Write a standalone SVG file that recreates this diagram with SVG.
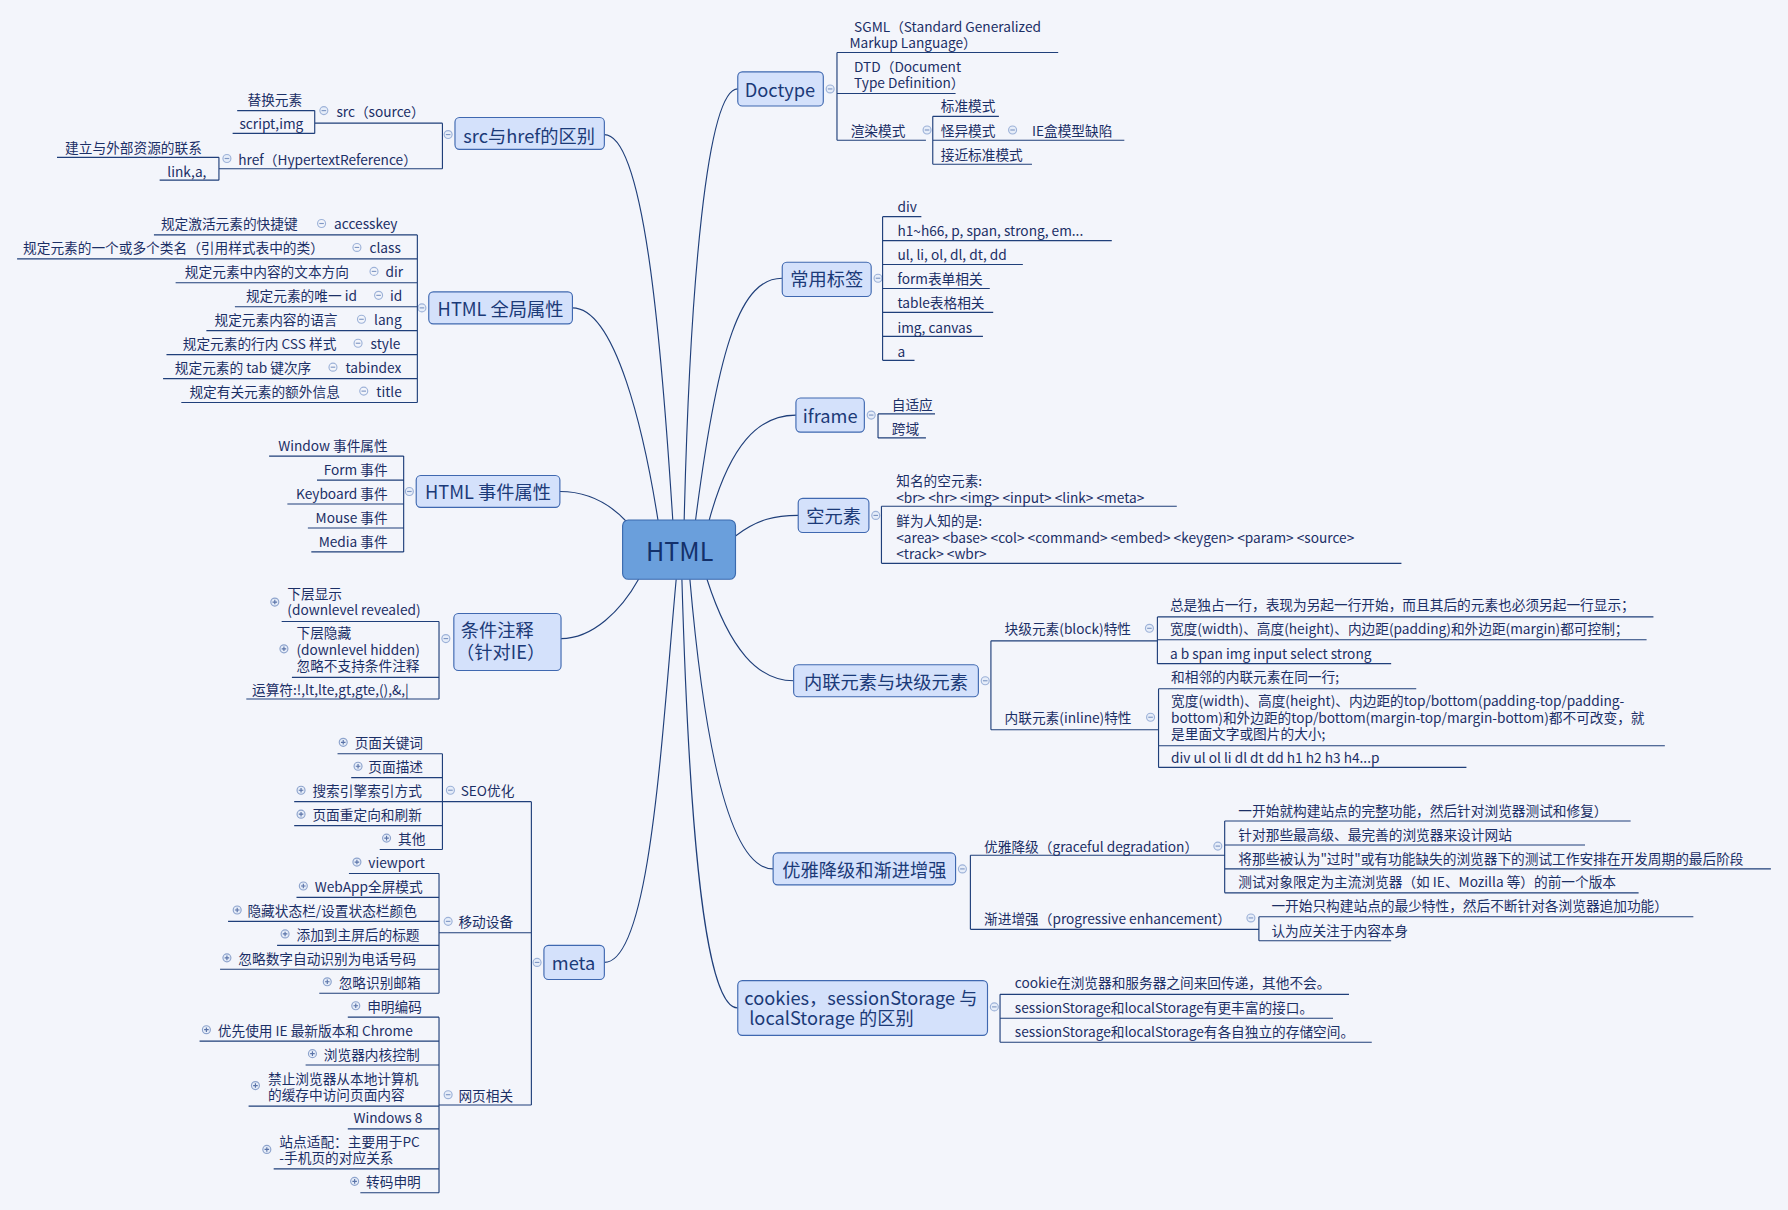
<svg xmlns="http://www.w3.org/2000/svg" width="1788" height="1210" viewBox="0 0 1788 1210">
<style>
.t{font-family:"Noto Sans CJK SC","DejaVu Sans",sans-serif;font-size:12px;fill:#1b2f66;dominant-baseline:central}
.e{text-anchor:end}
.n{font-family:"Noto Sans CJK SC","DejaVu Sans",sans-serif;font-size:16px;fill:#1b3a78;dominant-baseline:central;text-anchor:middle}
.b{fill:#d4e1fb;stroke:#3f68b0;stroke-width:1}
.l{fill:none;stroke:#1f3f7a;stroke-width:1}
.c{fill:#e6edf9;stroke:#9db2d8;stroke-width:1}
.s{stroke:#7f97c4;stroke-width:1}
</style>
<defs>
<g id="p"><circle cx="0" cy="0" r="3.5" fill="#e6edf9" stroke="#8da3cc"/><path d="M-2,0 H2 M0,-2 V2" stroke="#5a73a8" stroke-width="1"/></g>
</defs>
<rect width="1788" height="1210" fill="#f3f5fb"/>
<g transform="scale(1.1403)">
<g id="connectors" class="l">
<path d="M600,456 C605,250 620,78 647,78"/>
<path d="M610,456 C630,300 650,244 686,244"/>
<path d="M622,456 C640,390 665,364 698,364"/>
<path d="M645,470 C665,455 680,452 700,452"/>
<path d="M620,508 C640,570 665,597 696,597"/>
<path d="M605,508 C620,680 645,762 678,762"/>
<path d="M598,508 C605,750 620,884 647,884"/>
<path d="M530,118 C565,118 580,300 590,456"/>
<path d="M502,270 C540,270 565,380 577,456"/>
<path d="M491,431 C520,431 538,445 550,458"/>
<path d="M492,560 C520,560 545,535 560,508"/>
<path d="M530,844 C570,844 580,650 593,508"/>
</g>

<g id="html"><rect x="546" y="456" width="99" height="52" rx="5" fill="#6a9fdc" stroke="#3a6aae"/><text x="596" y="482" class="n" style="font-size:22px;fill:#13306a">HTML</text></g>

<g id="doctype">
<rect class="b" x="647" y="63" width="75" height="30" rx="4"/><text class="n" x="684" y="78">Doctype</text>
<circle class="c" cx="728" cy="78" r="3.5"/><line class="s" x1="726" y1="78" x2="730" y2="78"/>
<path class="l" d="M734,46 V123 M734,46 H928 M734,82 H838 M734,123 H812 M818,102 V144 M818,102 H876 M818,123 H986 M818,144 H905"/>
<text class="t" x="749" y="23">SGML（Standard Generalized</text><text class="t" x="745" y="37">Markup Language）</text>
<text class="t" x="749" y="58">DTD（Document</text><text class="t" x="749" y="72">Type Definition）</text>
<text class="t" x="746" y="114">渲染模式</text>
<circle class="c" cx="813" cy="114" r="3.5"/><line class="s" x1="811" y1="114" x2="815" y2="114"/>
<text class="t" x="825" y="92">标准模式</text><text class="t" x="825" y="114">怪异模式</text>
<circle class="c" cx="888" cy="114" r="3.5"/><line class="s" x1="886" y1="114" x2="890" y2="114"/>
<text class="t" x="905" y="114">IE盒模型缺陷</text><text class="t" x="825" y="135">接近标准模式</text>
</g>

<g id="tags">
<rect class="b" x="686" y="230" width="78" height="30" rx="4"/><text class="n" x="725" y="244">常用标签</text>
<circle class="c" cx="770" cy="244" r="3.5"/><line class="s" x1="768" y1="244" x2="772" y2="244"/>
<path class="l" d="M774,190 V316 M774,190 H808 M774,211 H975 M774,232 H897 M774,253 H868 M774,274 H871 M774,295 H862 M774,316 H802"/>
<text class="t" x="787" y="181">div</text><text class="t" x="787" y="202">h1~h66, p, span, strong, em...</text>
<text class="t" x="787" y="223">ul, li, ol, dl, dt, dd</text><text class="t" x="787" y="244">form表单相关</text>
<text class="t" x="787" y="265">table表格相关</text><text class="t" x="787" y="287">img, canvas</text><text class="t" x="787" y="308">a</text>
</g>

<g id="iframe">
<rect class="b" x="698" y="349" width="60" height="30" rx="4"/><text class="n" x="728" y="364">iframe</text>
<circle class="c" cx="764" cy="364" r="3.5"/><line class="s" x1="762" y1="364" x2="766" y2="364"/>
<path class="l" d="M770,363 V384 M770,363 H820 M770,384 H812"/>
<text class="t" x="782" y="354">自适应</text><text class="t" x="782" y="375">跨域</text>
</g>

<g id="empty">
<rect class="b" x="700" y="437" width="62" height="30" rx="4"/><text class="n" x="731" y="452">空元素</text>
<circle class="c" cx="768" cy="452" r="3.5"/><line class="s" x1="766" y1="452" x2="770" y2="452"/>
<path class="l" d="M773,444 V494 M773,444 H1032 M773,494 H1229"/>
<text class="t" x="786" y="421">知名的空元素:</text><text class="t" x="786" y="436">&lt;br&gt; &lt;hr&gt; &lt;img&gt; &lt;input&gt; &lt;link&gt; &lt;meta&gt;</text>
<text class="t" x="786" y="456">鲜为人知的是:</text><text class="t" x="786" y="471">&lt;area&gt; &lt;base&gt; &lt;col&gt; &lt;command&gt; &lt;embed&gt; &lt;keygen&gt; &lt;param&gt; &lt;source&gt;</text>
<text class="t" x="786" y="485">&lt;track&gt; &lt;wbr&gt;</text>
</g>

<g id="inline">
<rect class="b" x="696" y="583" width="162" height="28" rx="4"/><text class="n" x="777" y="597">内联元素与块级元素</text>
<circle class="c" cx="864" cy="597" r="3.5"/><line class="s" x1="862" y1="597" x2="866" y2="597"/>
<path class="l" d="M869,562 V640 M869,562 H1015 M869,640 H1016 M1015,541 V582 M1015,541 H1450 M1015,561 H1444 M1015,582 H1220 M1016,604 V673 M1016,604 H1242 M1016,654 H1460 M1016,673 H1286"/>
<text class="t" x="881" y="551">块级元素(block)特性</text>
<circle class="c" cx="1008" cy="551" r="3.5"/><line class="s" x1="1006" y1="551" x2="1010" y2="551"/>
<text class="t" x="1026" y="530">总是独占一行，表现为另起一行开始，而且其后的元素也必须另起一行显示；</text>
<text class="t" x="1026" y="551">宽度(width)、高度(height)、内边距(padding)和外边距(margin)都可控制；</text>
<text class="t" x="1026" y="573">a b span img input select strong</text>
<text class="t" x="881" y="629">内联元素(inline)特性</text>
<circle class="c" cx="1009" cy="629" r="3.5"/><line class="s" x1="1007" y1="629" x2="1011" y2="629"/>
<text class="t" x="1027" y="593">和相邻的内联元素在同一行;</text>
<text class="t" x="1027" y="614">宽度(width)、高度(height)、内边距的top/bottom(padding-top/padding-</text>
<text class="t" x="1027" y="629">bottom)和外边距的top/bottom(margin-top/margin-bottom)都不可改变，就</text>
<text class="t" x="1027" y="643">是里面文字或图片的大小;</text>
<text class="t" x="1027" y="664">div ul ol li dl dt dd h1 h2 h3 h4...p</text>
</g>

<g id="graceful">
<rect class="b" x="678" y="748" width="160" height="28" rx="4"/><text class="n" x="758" y="762">优雅降级和渐进增强</text>
<circle class="c" cx="844" cy="762" r="3.5"/><line class="s" x1="842" y1="762" x2="846" y2="762"/>
<path class="l" d="M851,750 V815 M851,750 H1074 M851,815 H1104 M1074,720 V783 M1074,720 H1430 M1074,741 H1390 M1074,762 H1553 M1074,783 H1437 M1104,804 V825 M1104,804 H1485 M1104,825 H1220"/>
<text class="t" x="863" y="742">优雅降级（graceful degradation）</text>
<circle class="c" cx="1068" cy="742" r="3.5"/><line class="s" x1="1066" y1="742" x2="1070" y2="742"/>
<text class="t" x="1086" y="710">一开始就构建站点的完整功能，然后针对浏览器测试和修复）</text>
<text class="t" x="1086" y="731">针对那些最高级、最完善的浏览器来设计网站</text>
<text class="t" x="1086" y="752">将那些被认为"过时"或有功能缺失的浏览器下的测试工作安排在开发周期的最后阶段</text>
<text class="t" x="1086" y="773">测试对象限定为主流浏览器（如 IE、Mozilla 等）的前一个版本</text>
<text class="t" x="863" y="805">渐进增强（progressive enhancement）</text>
<circle class="c" cx="1097" cy="805" r="3.5"/><line class="s" x1="1095" y1="805" x2="1099" y2="805"/>
<text class="t" x="1115" y="794">一开始只构建站点的最少特性，然后不断针对各浏览器追加功能）</text>
<text class="t" x="1115" y="816">认为应关注于内容本身</text>
</g>

<g id="cookies">
<rect class="b" x="647" y="860" width="219" height="48" rx="4"/>
<text class="n" x="755" y="874">cookies，sessionStorage 与</text>
<text class="n" x="657" y="892" style="text-anchor:start">localStorage 的区别</text>
<circle class="c" cx="872" cy="883" r="3.5"/><line class="s" x1="870" y1="883" x2="874" y2="883"/>
<path class="l" d="M877,872 V914 M877,872 H1183 M877,893 H1169 M877,914 H1203"/>
<text class="t" x="890" y="861">cookie在浏览器和服务器之间来回传递，其他不会。</text>
<text class="t" x="890" y="883">sessionStorage和localStorage有更丰富的接口。</text>
<text class="t" x="890" y="904">sessionStorage和localStorage有各自独立的存储空间。</text>
</g>

<g id="srchref">
<rect class="b" x="399" y="103" width="131" height="28" rx="4"/><text class="n" x="464" y="118">src与href的区别</text>
<circle class="c" cx="393" cy="118" r="3.5"/><line class="s" x1="391" y1="118" x2="395" y2="118"/>
<path class="l" d="M388,108 V148 M276,108 H388 M192,148 H388 M276,97 V117 M208,97 H276 M204,117 H276 M192,138 V158 M50,138 H192 M140,158 H192"/>
<circle class="c" cx="284" cy="97" r="3.5"/><line class="s" x1="282" y1="97" x2="286" y2="97"/>
<text class="t" x="295" y="97">src（source）</text>
<text class="t e" x="265" y="87">替换元素</text><text class="t e" x="266" y="108">script,img</text>
<circle class="c" cx="199" cy="139" r="3.5"/><line class="s" x1="197" y1="139" x2="201" y2="139"/>
<text class="t" x="209" y="139">href（HypertextReference）</text>
<text class="t e" x="177" y="129">建立与外部资源的联系</text><text class="t e" x="181" y="150">link,a,</text>
</g>

<g id="global">
<rect class="b" x="376" y="256" width="126" height="28" rx="4"/><text class="n" x="439" y="270">HTML 全局属性</text>
<circle class="c" cx="370" cy="270" r="3.5"/><line class="s" x1="368" y1="270" x2="372" y2="270"/>
<path class="l" d="M366,206 V353 M135,206 H366 M15,227 H366 M154,248 H366 M206,269 H366 M181,290 H366 M146,311 H366 M143,332 H366 M159,353 H366"/>
<g class="s">
<line x1="280" y1="196" x2="284" y2="196"/><line x1="311" y1="217" x2="315" y2="217"/><line x1="326" y1="238" x2="330" y2="238"/><line x1="330" y1="259" x2="334" y2="259"/>
<line x1="315" y1="280" x2="319" y2="280"/><line x1="312" y1="301" x2="316" y2="301"/><line x1="290" y1="322" x2="294" y2="322"/><line x1="317" y1="343" x2="321" y2="343"/>
</g>
<text class="t e" x="261" y="196">规定激活元素的快捷键</text><circle class="c" cx="282" cy="196" r="3.5" fill-opacity="0"/><text class="t" x="293" y="196">accesskey</text>
<text class="t e" x="284" y="217">规定元素的一个或多个类名（引用样式表中的类）</text><circle class="c" cx="313" cy="217" r="3.5" fill-opacity="0"/><text class="t" x="324" y="217">class</text>
<text class="t e" x="306" y="238">规定元素中内容的文本方向</text><circle class="c" cx="328" cy="238" r="3.5" fill-opacity="0"/><text class="t" x="338" y="238">dir</text>
<text class="t e" x="313" y="259">规定元素的唯一 id</text><circle class="c" cx="332" cy="259" r="3.5" fill-opacity="0"/><text class="t" x="342" y="259">id</text>
<text class="t e" x="296" y="280">规定元素内容的语言</text><circle class="c" cx="317" cy="280" r="3.5" fill-opacity="0"/><text class="t" x="328" y="280">lang</text>
<text class="t e" x="295" y="301">规定元素的行内 CSS 样式</text><circle class="c" cx="314" cy="301" r="3.5" fill-opacity="0"/><text class="t" x="325" y="301">style</text>
<text class="t e" x="273" y="322">规定元素的 tab 键次序</text><circle class="c" cx="292" cy="322" r="3.5" fill-opacity="0"/><text class="t" x="303" y="322">tabindex</text>
<text class="t e" x="298" y="343">规定有关元素的额外信息</text><circle class="c" cx="319" cy="343" r="3.5" fill-opacity="0"/><text class="t" x="330" y="343">title</text>
</g>

<g id="events">
<rect class="b" x="365" y="417" width="126" height="28" rx="4"/><text class="n" x="428" y="431">HTML 事件属性</text>
<circle class="c" cx="359" cy="431" r="3.5"/><line class="s" x1="357" y1="431" x2="361" y2="431"/>
<path class="l" d="M354,400 V484 M236,400 H354 M278,421 H354 M252,442 H354 M270,463 H354 M273,484 H354"/>
<text class="t e" x="340" y="390">Window 事件属性</text><text class="t e" x="340" y="411">Form 事件</text>
<text class="t e" x="340" y="432">Keyboard 事件</text><text class="t e" x="340" y="453">Mouse 事件</text><text class="t e" x="340" y="474">Media 事件</text>
</g>

<g id="cond">
<rect class="b" x="398" y="538" width="94" height="50" rx="4"/>
<text class="n" x="404" y="552" style="text-anchor:start">条件注释</text><text class="n" x="400" y="571" style="text-anchor:start">（针对IE）</text>
<circle class="c" cx="391" cy="560" r="3.5"/><line class="s" x1="389" y1="560" x2="393" y2="560"/>
<path class="l" d="M385,545 V613 M247,545 H385 M256,594 H385 M216,613 H385"/>
<use href="#p" x="241" y="528"/>
<text class="t" x="252" y="520">下层显示</text><text class="t" x="252" y="534">(downlevel revealed)</text>
<use href="#p" x="249" y="569"/>
<text class="t" x="260" y="554">下层隐藏</text><text class="t" x="260" y="569">(downlevel hidden)</text><text class="t" x="260" y="583">忽略不支持条件注释</text>
<text class="t" x="221" y="604">运算符:!,lt,lte,gt,gte,(),&amp;,|</text>
</g>

<g id="meta">
<rect class="b" x="477" y="829" width="53" height="30" rx="4"/><text class="n" x="503" y="844">meta</text>
<circle class="c" cx="471" cy="844" r="3.5"/><line class="s" x1="469" y1="844" x2="473" y2="844"/>
<path class="l" d="M466,703 V969 M388,703 H466 M385,818 H466 M385,969 H466
M388,661 V745 M296,661 H388 M308,682 H388 M258,703 H388 M258,724 H388 M333,745 H388
M385,766 V871 M306,766 H385 M260,787 H385 M200,808 H385 M243,829 H385 M193,850 H385 M280,871 H385
M385,892 V1046 M305,892 H385 M175,913 H385 M268,934 H385 M218,970 H385 M305,990 H385 M240,1025 H385 M316,1046 H385"/>
<circle class="c" cx="395" cy="693" r="3.5"/><line class="s" x1="393" y1="693" x2="397" y2="693"/><text class="t" x="404" y="693">SEO优化</text>
<circle class="c" cx="393" cy="808" r="3.5"/><line class="s" x1="391" y1="808" x2="395" y2="808"/><text class="t" x="402" y="808">移动设备</text>
<circle class="c" cx="393" cy="960" r="3.5"/><line class="s" x1="391" y1="960" x2="395" y2="960"/><text class="t" x="402" y="960">网页相关</text>
<use href="#p" x="301" y="651"/><use href="#p" x="314" y="672"/><use href="#p" x="264" y="693"/><use href="#p" x="264" y="714"/><use href="#p" x="339" y="735"/>
<use href="#p" x="313" y="756"/><use href="#p" x="266" y="777"/><use href="#p" x="208" y="798"/><use href="#p" x="250" y="819"/><use href="#p" x="199" y="840"/><use href="#p" x="287" y="861"/>
<use href="#p" x="312" y="882"/><use href="#p" x="181" y="903"/><use href="#p" x="274" y="924"/><use href="#p" x="224" y="952"/><use href="#p" x="234" y="1008"/><use href="#p" x="311" y="1036"/>
<text class="t" x="311" y="651">页面关键词</text><text class="t" x="323" y="672">页面描述</text><text class="t" x="274" y="693">搜索引擎索引方式</text>
<text class="t" x="274" y="714">页面重定向和刷新</text><text class="t" x="349" y="735">其他</text>
<text class="t" x="323" y="756">viewport</text><text class="t" x="276" y="777">WebApp全屏模式</text><text class="t" x="217" y="798">隐藏状态栏/设置状态栏颜色</text>
<text class="t" x="260" y="819">添加到主屏后的标题</text><text class="t" x="209" y="840">忽略数字自动识别为电话号码</text><text class="t" x="297" y="861">忽略识别邮箱</text>
<text class="t" x="322" y="882">申明编码</text><text class="t" x="191" y="903">优先使用 IE 最新版本和 Chrome</text><text class="t" x="284" y="924">浏览器内核控制</text>
<text class="t" x="235" y="945">禁止浏览器从本地计算机</text><text class="t" x="235" y="959">的缓存中访问页面内容</text>
<text class="t" x="310" y="980">Windows 8</text>
<text class="t" x="245" y="1001">站点适配：主要用于PC</text><text class="t" x="245" y="1015">-手机页的对应关系</text>
<text class="t" x="321" y="1036">转码申明</text>
</g>
</g>
</svg>
